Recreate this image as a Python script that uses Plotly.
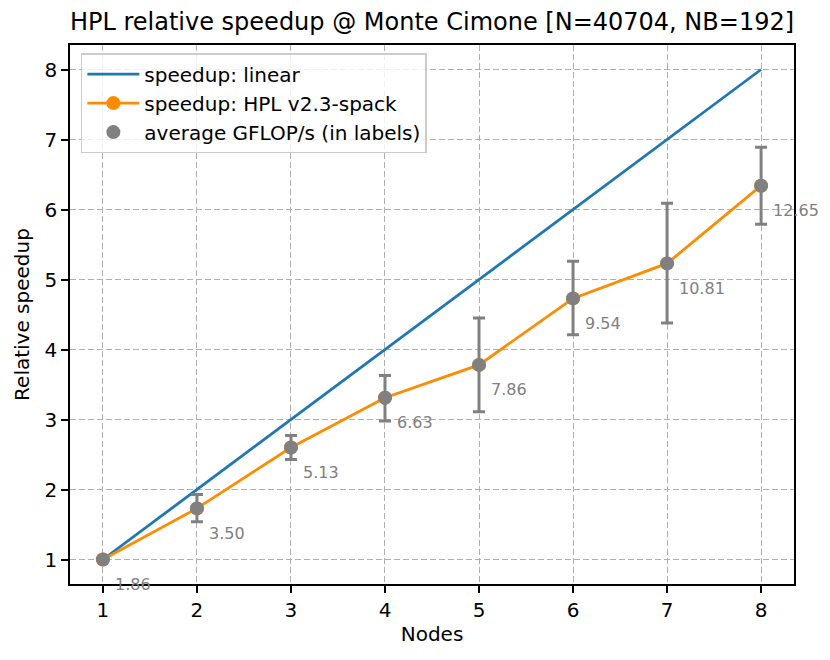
import plotly.graph_objects as go

# Donnees
nodes = [1, 2, 3, 4, 5, 6, 7, 8]
linear = [1, 2, 3, 4, 5, 6, 7, 8]
speedup = [1.00, 1.73, 2.60, 3.31, 3.78, 4.73, 5.23, 6.34]
err_plus = [0.00, 0.20, 0.17, 0.32, 0.67, 0.53, 0.86, 0.55]
err_minus = [0.00, 0.19, 0.17, 0.33, 0.67, 0.52, 0.85, 0.55]
gflops_labels = ["1.86", "3.50", "5.13", "6.63", "7.86", "9.54", "10.81", "12.65"]

fnt = "DejaVu Sans"

fig = go.Figure()

fig.add_trace(go.Scatter(x=nodes, y=linear, mode='lines',
                         name='speedup: linear',
                         line=dict(color='#1f77b4', width=2.8)))

fig.add_trace(go.Scatter(x=nodes, y=speedup, mode='lines+markers',
                         name='speedup: HPL v2.3-spack',
                         line=dict(color='#ff8c00', width=2.8),
                         marker=dict(color='#ff8c00', size=14)))

fig.add_trace(go.Scatter(x=nodes, y=speedup, mode='markers',
                         name='average GFLOP/s (in labels)',
                         marker=dict(color='grey', size=14),
                         error_y=dict(type='data', symmetric=False,
                                      array=err_plus, arrayminus=err_minus,
                                      color='grey', thickness=3, width=6)))

# Etiquettes GFLOP/s
for x, y, t in zip(nodes, speedup, gflops_labels):
    fig.add_annotation(x=x, y=y, text=t, showarrow=False,
                       xanchor='left', yanchor='middle',
                       xshift=10, yshift=-25,
                       font=dict(family=fnt, size=16, color='grey'))

axe = dict(showline=True, linecolor='black', linewidth=1.5, mirror=True,
           ticks='outside', ticklen=7, tickwidth=1.5, tickcolor='black',
           showgrid=True, gridcolor='#b0b0b0', griddash='6px,3px', gridwidth=1.2,
           zeroline=False, tickfont=dict(family=fnt, size=20, color='black'))

fig.update_xaxes(axe, range=[0.65, 8.35], dtick=1,
                 title=dict(text='Nodes', font=dict(family=fnt, size=20, color='black'), standoff=6))
fig.update_yaxes(axe, range=[0.65, 8.35], dtick=1,
                 title=dict(text='Relative speedup', font=dict(family=fnt, size=20, color='black'), standoff=10))

# la page ajoute 8px de marge autour de la figure
fig.update_layout(
    width=830, height=660,
    margin=dict(l=62, r=44, t=37, b=84),
    plot_bgcolor='white', paper_bgcolor='white',
    title=dict(text='HPL relative speedup @ Monte Cimone [N=40704, NB=192]',
               x=0.5, xref='paper', xanchor='center',
               y=1 - 14 / 660, yref='container', yanchor='middle',
               font=dict(family=fnt, size=24, color='black')),
    legend=dict(x=0.015, y=0.985, xanchor='left', yanchor='top',
                bgcolor='rgba(255,255,255,0.8)', bordercolor='#cccccc', borderwidth=1.5,
                font=dict(family=fnt, size=20, color='black'),
                itemwidth=52, tracegroupgap=0),
    showlegend=True,
)

fig.write_html("out.html")
